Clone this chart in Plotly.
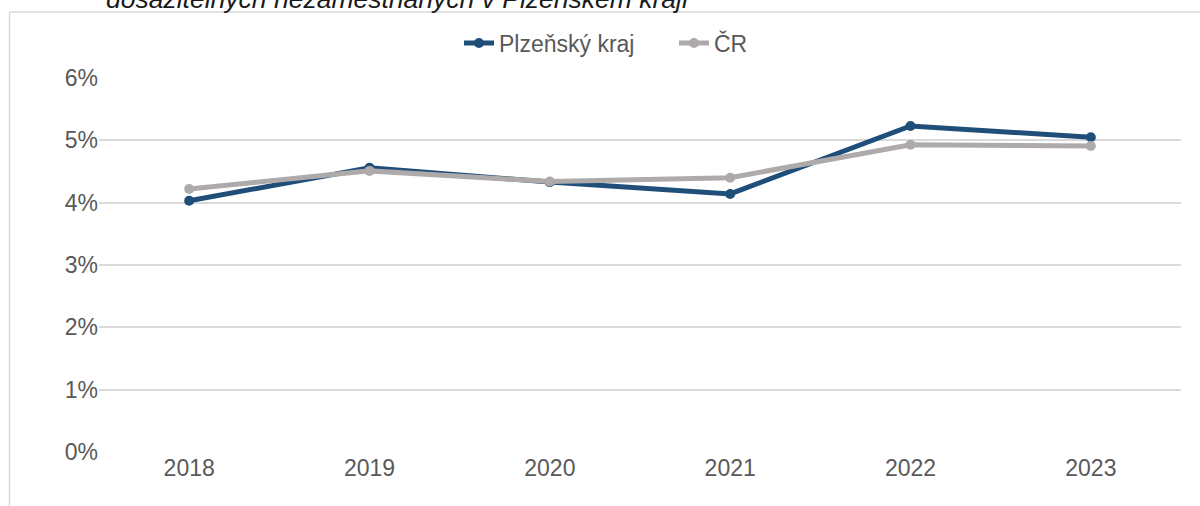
import plotly.graph_objects as go

years = ["2018", "2019", "2020", "2021", "2022", "2023"]
plzen = [4.03, 4.56, 4.33, 4.14, 5.23, 5.05]
cr = [4.22, 4.51, 4.34, 4.40, 4.93, 4.91]
y_ticks = [0, 1, 2, 3, 4, 5, 6]
y_tick_labels = ["0%", "1%", "2%", "3%", "4%", "5%", "6%"]
title_text = "dosažitelných nezaměstnaných v Plzeňském kraji"

BLUE = "#1F4E79"
GRAY = "#AEAAAA"
FONT = "Liberation Sans, Arial, sans-serif"
TXT = "#595959"

fig = go.Figure()
fig.add_trace(go.Scatter(x=years, y=plzen, name="Plzeňský kraj", mode="lines+markers",
                         line=dict(color=BLUE, width=5), marker=dict(size=10, color=BLUE)))
fig.add_trace(go.Scatter(x=years, y=cr, name="ČR", mode="lines+markers",
                         line=dict(color=GRAY, width=5), marker=dict(size=10, color=GRAY)))

W, H = 1200, 506
L, R, T, B = 99, 19, 78, 54
pw, ph = W - L - R, H - T - B

def px(x):
    return (x - L) / pw

def py(y):
    return (H - B - y) / ph

fig.update_layout(
    width=W, height=H,
    margin=dict(l=L, r=R, t=T, b=B),
    paper_bgcolor="white", plot_bgcolor="white",
    font=dict(family=FONT, size=23, color=TXT),
    showlegend=True,
    legend=dict(orientation="h", x=px(674), xanchor="center", y=py(43), yanchor="middle",
                entrywidth=170, entrywidthmode="pixels",
                font=dict(size=23, color=TXT), bgcolor="rgba(0,0,0,0)"),
    xaxis=dict(type="category", range=[-0.5, 5.5], showgrid=False, zeroline=False,
               showline=False, ticks="", tickfont=dict(size=23, color=TXT)),
    yaxis=dict(range=[0, 6], tickvals=y_ticks, ticktext=y_tick_labels, showgrid=True,
               gridcolor="#D9D9D9", gridwidth=1.5, zeroline=False, showline=False,
               ticks="", ticklen=0, tickfont=dict(size=23, color=TXT)),
    shapes=[
        dict(type="line", xref="paper", yref="paper", x0=px(9.5), x1=px(9.5), y0=py(520), y1=py(12),
             line=dict(color="#D9D9D9", width=1.5)),
        dict(type="line", xref="paper", yref="paper", x0=px(9.5), x1=px(1210), y0=py(12), y1=py(12),
             line=dict(color="#D9D9D9", width=1.5)),
    ],
    annotations=[
        dict(text=title_text, xref="paper", yref="paper", x=px(104), xanchor="left",
             y=py(-1), yanchor="middle", showarrow=False,
             font=dict(family=FONT, size=26.5, color="#1A1A1A", style="italic")),
    ],
)
fig.write_html("out.html", config={"displayModeBar": False},
               post_script="document.body.style.margin='0';")
